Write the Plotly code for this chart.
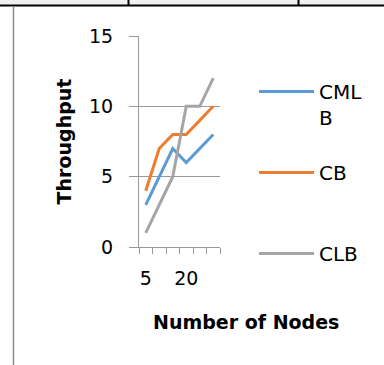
import plotly.graph_objects as go

categories = ["5", "10", "15", "20", "25", "30"]
tick_labels = ["5", "", "", "20", "", ""]
cmlb = [3, 5, 7, 6, 7, 8]
cb = [4, 7, 8, 8, 9, 10]
clb = [1, 3, 5, 10, 10, 12]
series_names = ["CMLB", "CB", "CLB"]
legend_labels = ["CML<br>B", "CB<br> ", "CLB<br> "]
colors = ["#5B9BD5", "#ED7D31", "#A5A5A5"]

W, H = 384, 365
L, R, T, B = 139, 164, 36, 118
FONT = "DejaVu Sans"
GRID = "#999999"

fig = go.Figure()
for i, vals in enumerate([cmlb, cb, clb]):
    fig.add_trace(go.Scatter(
        x=categories, y=vals, mode="lines", name=legend_labels[i],
        legendgroup=series_names[i],
        line=dict(color=colors[i], width=3),
    ))

def px_x(p):
    return p / W

def px_y(p):
    return 1 - p / H

pw = W - L - R
ph = H - T - B

def sx(p):
    return (p - L) / pw

def sy(p):
    return (H - B - p) / ph

fig.update_layout(
    width=W, height=H, autosize=False,
    margin=dict(l=L, r=R, t=T, b=B, pad=0),
    paper_bgcolor="white", plot_bgcolor="white",
    font=dict(family=FONT, size=19, color="#000000"),
    showlegend=True,
    legend=dict(
        xref="container", yref="container",
        x=px_x(254), y=px_y(72), xanchor="left", yanchor="top",
        font=dict(family=FONT, size=20, color="#000000"),
        itemwidth=55, valign="top", traceorder="grouped",
        tracegroupgap=26, bgcolor="rgba(0,0,0,0)",
        maxheight=365,
    ),
    xaxis=dict(
        type="category", categoryorder="array", categoryarray=categories,
        range=[-0.5, 5.5],
        tickvals=categories, ticktext=tick_labels, tickangle=0,
        tickson="boundaries", ticks="outside", ticklen=6, tickcolor=GRID,
        showline=True, linecolor=GRID, linewidth=1,
        showgrid=False, zeroline=False,
        ticklabelstandoff=14,
        tickfont=dict(family=FONT, size=19, color="#000000"),
    ),
    yaxis=dict(
        range=[0, 15], dtick=5, tick0=0,
        ticks="outside", ticklen=9, tickcolor=GRID,
        showline=True, linecolor=GRID, linewidth=1,
        showgrid=True, gridcolor=GRID, gridwidth=1,
        zeroline=False, ticklabelstandoff=12,
        tickfont=dict(family=FONT, size=19, color="#000000"),
        title=dict(text="<b>Throughput</b>", standoff=12,
                   font=dict(family=FONT, size=19, color="#000000")),
    ),
    annotations=[dict(
        text="<b>Number of Nodes</b>", xref="paper", yref="paper",
        x=sx(246), y=sy(322),
        xanchor="center", yanchor="middle", showarrow=False,
        font=dict(family=FONT, size=19, color="#000000"),
    )],
)

# document table frame around the chart (drawn in paper coords)
frame = [
    dict(type="rect", x0=sx(0), x1=sx(384), y0=sy(0), y1=sy(4.5), fillcolor="#f0f0f0", line=dict(width=0)),
    dict(type="line", x0=sx(0), x1=sx(384), y0=sy(5.5), y1=sy(5.5), line=dict(color="#000000", width=2)),
    dict(type="line", x0=sx(128.5), x1=sx(128.5), y0=sy(0), y1=sy(5), line=dict(color="#000000", width=2)),
    dict(type="line", x0=sx(298.5), x1=sx(298.5), y0=sy(0), y1=sy(5), line=dict(color="#000000", width=2)),
    dict(type="line", x0=sx(13.5), x1=sx(13.5), y0=sy(6), y1=sy(365), line=dict(color="#888888", width=1.5)),
]
for s in frame:
    s.update(xref="paper", yref="paper", layer="above")
fig.update_layout(shapes=frame)

fig.write_html("out.html")
